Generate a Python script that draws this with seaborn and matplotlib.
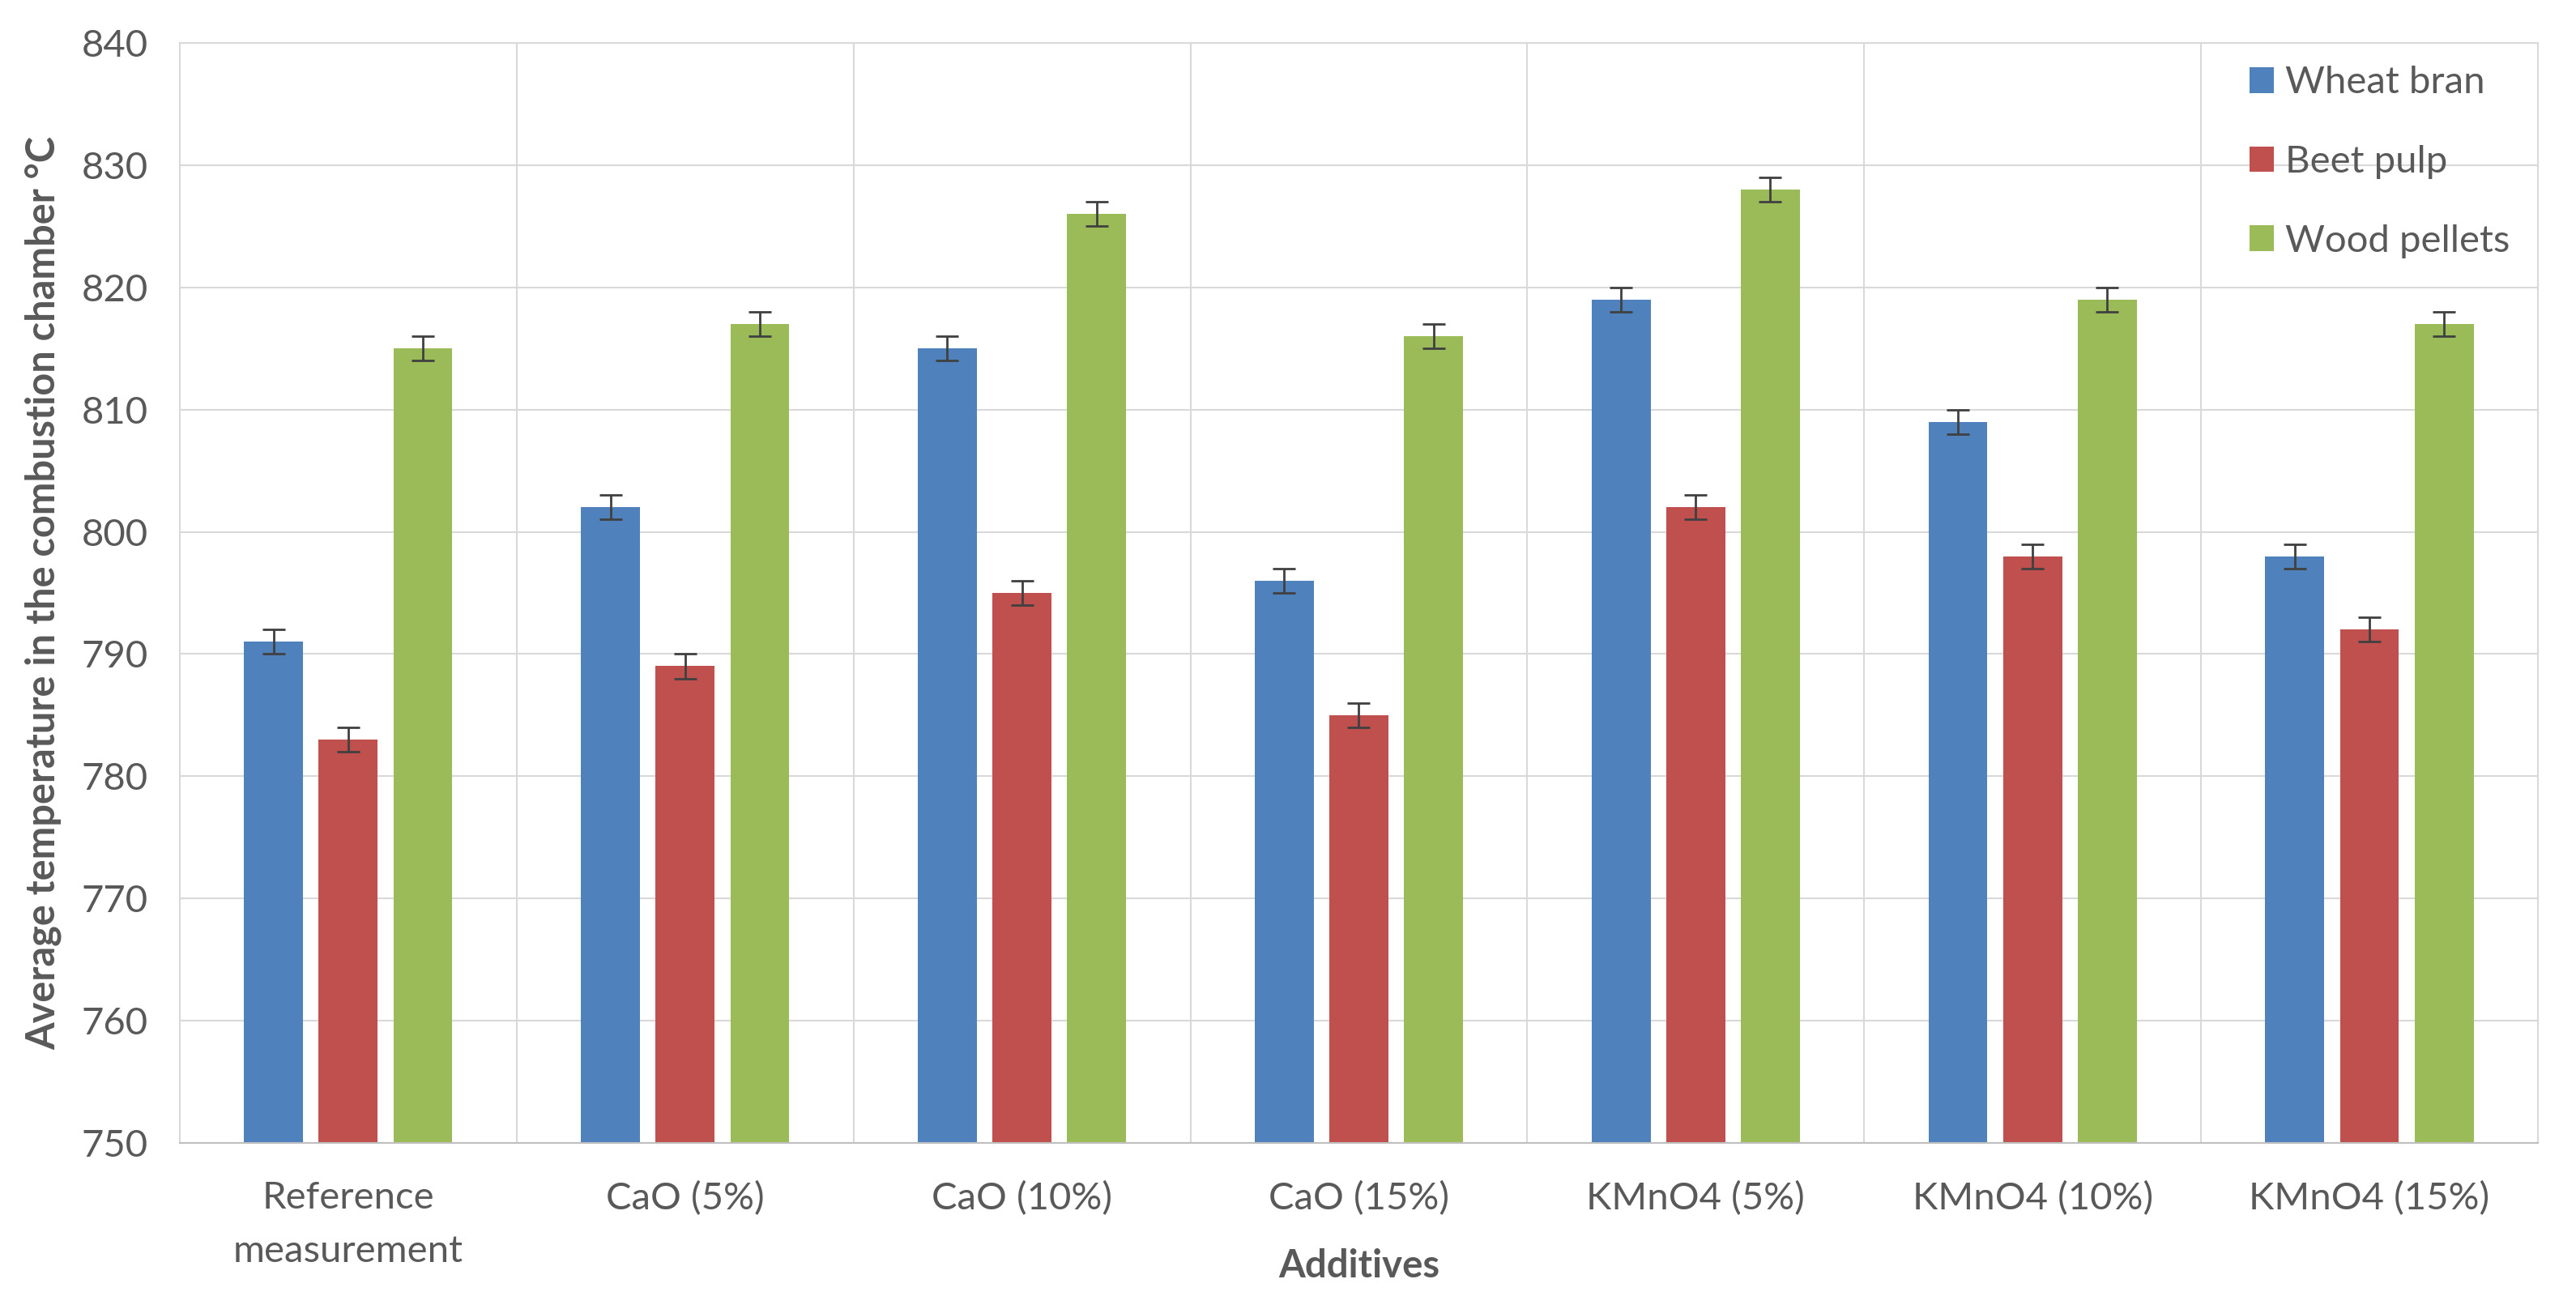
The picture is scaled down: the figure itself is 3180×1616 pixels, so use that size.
import numpy as np
import pandas as pd
import seaborn as sns
import matplotlib.pyplot as plt

additives = ["Reference\nmeasurement", "CaO (5%)", "CaO (10%)", "CaO (15%)",
             "KMnO4 (5%)", "KMnO4 (10%)", "KMnO4 (15%)"]
fuels = ["Wheat bran", "Beet pulp", "Wood pellets"]

wheat_bran = [791, 802, 815, 796, 819, 809, 798]
beet_pulp = [783, 789, 795, 785, 802, 798, 792]
wood_pellets = [815, 817, 826, 816, 828, 819, 817]

wheat_bran_err = [1, 1, 1, 1, 1, 1, 1]
beet_pulp_err = [1, 1, 1, 1, 1, 1, 1]
wood_pellets_err = [1, 1, 1, 1, 1, 1, 1]

colors = ["#4F81BD", "#C0504D", "#9BBB59"]
grey_text = "#595959"
grid_col = "#D9D9D9"

df = pd.DataFrame({
    "Additive": additives * 3,
    "Fuel": np.repeat(fuels, len(additives)),
    "Temp": wheat_bran + beet_pulp + wood_pellets,
})

sns.set_style("white")
plt.rcParams["font.family"] = ["Lato", "DejaVu Sans"]

fig = plt.figure(figsize=(15.9, 8.08), dpi=200)
ax = fig.add_subplot(111)
fig.subplots_adjust(left=0.0698, right=0.9852, top=0.9672, bottom=0.1269)

sns.barplot(data=df, x="Additive", y="Temp", hue="Fuel", palette=colors,
            saturation=1, width=0.665, gap=0.21, errorbar=None,
            linewidth=0, ax=ax)

# error bars at the bar centres
for cont, errs in zip(ax.containers, [wheat_bran_err, beet_pulp_err, wood_pellets_err]):
    xs = [p.get_x() + p.get_width() / 2 for p in cont]
    ys = [p.get_height() for p in cont]
    ax.errorbar(xs, ys, yerr=errs, fmt="none", ecolor="#404040",
                elinewidth=1.0, capsize=5, capthick=1.0, zorder=3)

ax.set_ylim(750, 840)
ax.set_yticks(np.arange(750, 841, 10))
ax.set_xlim(-0.5, len(additives) - 0.5)
ax.set_xticks(np.arange(0.5, len(additives) - 0.5, 1), minor=True)

ax.set_axisbelow(True)
ax.yaxis.grid(True, color=grid_col, lw=0.75)
ax.xaxis.grid(True, which="minor", color=grid_col, lw=0.75)
ax.xaxis.grid(False, which="major")
for s in ax.spines.values():
    s.set_visible(True)
    s.set_color(grid_col)
    s.set_linewidth(0.75)
ax.spines["bottom"].set_color("#BFBFBF")

ax.tick_params(axis="both", which="both", length=0, labelsize=17, labelcolor=grey_text)
ax.tick_params(axis="x", pad=17)
ax.tick_params(axis="y", pad=14)
for lbl in ax.get_xticklabels():
    lbl.set_linespacing(1.7)

ax.set_xlabel("Additives", fontsize=17, fontweight="bold", color=grey_text, labelpad=-9)
ax.set_ylabel("Average temperature in the combustion chamber \u00b0C", fontsize=17.5,
              fontweight="bold", color=grey_text, labelpad=9)

handles, labels = ax.get_legend_handles_labels()
ax.legend(handles, labels, loc="upper right", frameon=False, fontsize=17,
          labelcolor=grey_text, handlelength=0.65, handleheight=0.65,
          handletextpad=0.3, labelspacing=1.18, borderaxespad=0.2,
          bbox_to_anchor=(0.998, 1.0))

fig.savefig("out.png", dpi=200)
